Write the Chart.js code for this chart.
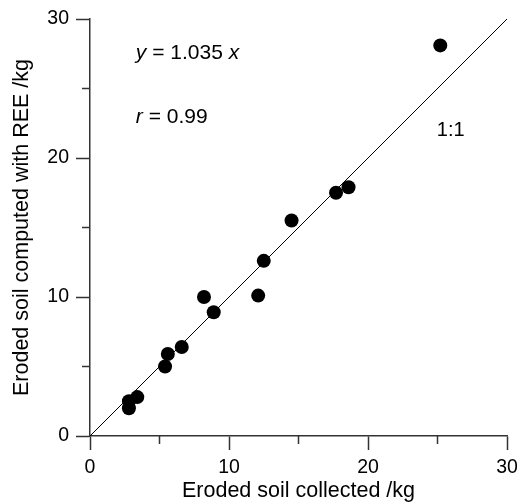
<!DOCTYPE html>
<html>
<head>
<meta charset="utf-8">
<script src="https://cdn.jsdelivr.net/npm/chart.js@4/dist/chart.umd.min.js"></script>
<style>
  html, body { margin: 0; padding: 0; background: #fff; }
  #wrap { width: 519px; height: 502px; position: relative; }
</style>
</head>
<body>
<div id="wrap"><canvas id="c" width="519" height="502"></canvas></div>
<script>
// Data
const collectedKg = [25.2, 18.6, 17.7, 14.5, 12.5, 12.1, 8.2, 8.9, 6.6, 5.6, 5.4, 2.8, 3.4, 2.8];
const computedKg  = [28.1, 17.9, 17.5, 15.5, 12.6, 10.1, 10.0, 8.9, 6.4, 5.9, 5.0, 2.5, 2.8, 2.0];
const oneToOneX = [0, 30];
const oneToOneY = [0, 30];
const axisMin = 0, axisMax = 30;
const majorTicks = [0, 10, 20, 30];
const minorTicks = [5, 15, 25];
const xTitle = 'Eroded soil collected /kg';
const yTitle = 'Eroded soil computed with REE /kg';
const annotations = [
  { x: 3.3, y: 27.55, size: 21, parts: [['y', true], [' = 1.035 ', false], ['x', true]] },
  { x: 3.3, y: 22.95, size: 21, parts: [['r', true], [' = 0.99', false]] },
  { x: 24.95, y: 22.0, size: 20, parts: [['1:1', false]] }
];

const FONT = '"Liberation Sans", Arial, Helvetica, sans-serif';
const AXIS_COLOR = '#333';

const scatterPts = collectedKg.map((x, i) => ({ x, y: computedKg[i] }));
const linePts = oneToOneX.map((x, i) => ({ x, y: oneToOneY[i] }));

const minorTickPlugin = {
  id: 'minorTicks',
  afterDraw(chart) {
    const ctx = chart.ctx;
    const xs = chart.scales.x, ys = chart.scales.y;
    ctx.save();
    ctx.strokeStyle = AXIS_COLOR;
    ctx.lineWidth = 1.5;
    minorTicks.forEach(v => {
      const px = xs.getPixelForValue(v);
      ctx.beginPath(); ctx.moveTo(px, xs.top); ctx.lineTo(px, xs.top + 8); ctx.stroke();
      const py = ys.getPixelForValue(v);
      ctx.beginPath(); ctx.moveTo(ys.right, py); ctx.lineTo(ys.right - 8, py); ctx.stroke();
    });
    // annotations
    ctx.fillStyle = '#000';
    ctx.textBaseline = 'middle';
    ctx.textAlign = 'left';
    annotations.forEach(a => {
      let px = xs.getPixelForValue(a.x);
      const py = ys.getPixelForValue(a.y);
      a.parts.forEach(([t, it]) => {
        ctx.font = (it ? 'italic ' : '') + a.size + 'px ' + FONT;
        ctx.fillText(t, px, py);
        px += ctx.measureText(t).width;
      });
    });
    ctx.restore();
  }
};

new Chart(document.getElementById('c'), {
  type: 'scatter',
  data: {
    datasets: [
      {
        data: linePts,
        showLine: true,
        borderColor: '#000',
        borderWidth: 1,
        pointRadius: 0,
        fill: false
      },
      {
        data: scatterPts,
        backgroundColor: '#000',
        borderColor: '#000',
        borderWidth: 0,
        pointRadius: 7,
        pointHoverRadius: 7
      }
    ]
  },
  options: {
    responsive: false,
    animation: false,
    devicePixelRatio: 1,
    layout: { padding: { top: 19, right: 12, left: 0, bottom: 0 } },
    plugins: { legend: { display: false }, tooltip: { enabled: false } },
    scales: {
      x: {
        type: 'linear',
        min: axisMin, max: axisMax,
        afterFit: s => { s.height = 66; s.paddingLeft = 0; s.paddingRight = 0; },
        afterBuildTicks: s => { s.ticks = majorTicks.map(v => ({ value: v })); },
        ticks: {
          autoSkip: false, maxRotation: 0, padding: 6,
          color: '#000',
          font: { family: FONT, size: 19.5 }
        },
        grid: {
          drawOnChartArea: false, drawTicks: true, tickLength: 14,
          tickColor: AXIS_COLOR, tickWidth: 1.5
        },
        border: { display: true, color: AXIS_COLOR, width: 1.5 },
        title: {
          display: true, text: xTitle, color: '#000',
          font: { family: FONT, size: 21.5, lineHeight: 1 },
          padding: { top: 0, bottom: 0 }
        }
      },
      y: {
        type: 'linear',
        min: axisMin, max: axisMax,
        afterFit: s => { s.width = 90; s.paddingTop = 0; s.paddingBottom = 0; },
        afterBuildTicks: s => { s.ticks = majorTicks.map(v => ({ value: v })); },
        ticks: {
          autoSkip: false, padding: 7,
          color: '#000',
          font: { family: FONT, size: 19.5 }
        },
        grid: {
          drawOnChartArea: false, drawTicks: true, tickLength: 14,
          tickColor: AXIS_COLOR, tickWidth: 1.5
        },
        border: { display: true, color: AXIS_COLOR, width: 1.5 },
        title: {
          display: true, text: yTitle, color: '#000',
          font: { family: FONT, size: 21.5, lineHeight: 1 },
          padding: { top: 11, bottom: 0 }
        }
      }
    }
  },
  plugins: [minorTickPlugin]
});
</script>
</body>
</html>
